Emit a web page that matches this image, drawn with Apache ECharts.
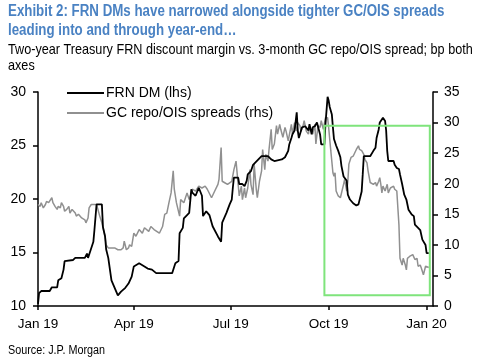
<!DOCTYPE html>
<html><head><meta charset="utf-8">
<script src="https://cdn.jsdelivr.net/npm/echarts@6/dist/echarts.min.js"></script>
<style>html,body{margin:0;padding:0;background:#fff}#c{width:480px;height:362px}</style>
</head><body><div id="c"></div>
<script>
// ---------- data ----------
const titleLines = ['Exhibit 2: FRN DMs have narrowed alongside tighter GC/OIS spreads', 'leading into and through year-end\u2026'];
const subtitleLines = ['Two-year Treasury FRN discount margin vs. 3-month GC repo/OIS spread; bp both', 'axes'];
const sourceText = 'Source: J.P. Morgan';
const seriesNames = ['FRN DM (lhs)', 'GC repo/OIS spreads (rhs)'];

const xTickDates = ['2019-01-01', '2019-04-01', '2019-07-01', '2019-10-01', '2020-01-01'];
const xTickLabels = ['Jan 19', 'Apr 19', 'Jul 19', 'Oct 19', 'Jan 20'];
const xRange = ['2019-01-01', '2020-01-07'];
const leftAxis = [10, 30, 5];   // min, max, interval
const rightAxis = [0, 35, 5];

const frnDates = ['2019-01-01','2019-01-02','2019-01-04','2019-01-12','2019-01-14','2019-01-19','2019-01-20','2019-01-23','2019-01-25','2019-01-26',
'2019-02-03','2019-02-05','2019-02-14','2019-02-16','2019-02-17','2019-02-19','2019-02-22','2019-02-23','2019-02-25','2019-03-02',
'2019-03-03','2019-03-05','2019-03-06','2019-03-08','2019-03-11','2019-03-14','2019-03-17','2019-03-20','2019-03-24','2019-03-27',
'2019-03-30','2019-04-01','2019-04-02','2019-04-06','2019-04-11','2019-04-14','2019-04-18','2019-04-22','2019-05-07','2019-05-10',
'2019-05-13','2019-05-14','2019-05-17','2019-05-18','2019-05-21','2019-05-23','2019-05-25','2019-05-26','2019-05-29','2019-06-01',
'2019-06-04','2019-06-05','2019-06-08','2019-06-11','2019-06-14','2019-06-19','2019-06-22','2019-06-23','2019-06-27','2019-06-30',
'2019-07-02','2019-07-03','2019-07-04','2019-07-08','2019-07-09','2019-07-12','2019-07-14','2019-07-16','2019-07-17','2019-07-20',
'2019-07-22','2019-07-23','2019-07-27','2019-07-30','2019-08-05','2019-08-08','2019-08-11','2019-08-18','2019-08-21','2019-08-24',
'2019-08-25','2019-08-27','2019-08-28','2019-08-30','2019-09-01','2019-09-02','2019-09-03','2019-09-06','2019-09-09','2019-09-12',
'2019-09-13','2019-09-15','2019-09-16','2019-09-18','2019-09-20','2019-09-21','2019-09-23','2019-09-24','2019-09-27','2019-09-28',
'2019-09-30','2019-10-01','2019-10-02','2019-10-04','2019-10-05','2019-10-06','2019-10-08','2019-10-10','2019-10-12','2019-10-13',
'2019-10-15','2019-10-18','2019-10-19','2019-10-21','2019-10-24','2019-10-27','2019-10-29','2019-10-30','2019-11-01','2019-11-02',
'2019-11-03','2019-11-09','2019-11-12','2019-11-14','2019-11-15','2019-11-17','2019-11-18','2019-11-21','2019-11-23','2019-11-24',
'2019-11-25','2019-11-26','2019-12-01','2019-12-02','2019-12-04','2019-12-06','2019-12-07','2019-12-09','2019-12-11','2019-12-13',
'2019-12-15','2019-12-18','2019-12-20','2019-12-21','2019-12-24','2019-12-26','2019-12-28','2019-12-31','2020-01-01','2020-01-03'];
const frnValues = [10.2,11.2,11.4,11.4,11.75,11.75,12.4,12.6,13.4,14.2,
14.3,14.5,14.5,14.9,14.5,15.1,16.0,17.1,19.5,19.5,
17.4,16.5,15.3,14.5,12.4,11.7,11.0,11.35,11.7,12.1,
12.75,13.7,13.85,14.0,13.7,13.5,13.4,13.07,13.07,14.0,
14.2,16.8,17.3,18.2,18.5,18.7,20.9,20.6,20.3,21.05,
20.3,18.4,18.85,18.5,17.45,16.5,16.0,17.8,18.7,19.5,
19.95,21.05,22.0,22.0,21.4,21.4,21.2,21.7,22.3,22.6,
23.2,23.1,23.7,24.0,24.0,23.7,23.55,23.7,23.9,24.5,
25.1,25.7,26.05,26.4,28.1,26.4,25.7,26.7,26.8,26.4,
27.0,26.05,26.7,26.8,27.15,27.0,26.0,25.1,25.1,27.0,
29.55,29.2,28.6,27.9,26.7,25.6,25.0,24.5,23.9,23.1,
22.1,21.7,20.4,19.95,19.6,19.4,19.5,19.6,20.7,22.3,
24.0,24.0,24.5,24.8,25.7,26.5,27.15,27.6,27.3,26.4,
24.5,23.55,23.55,23.2,22.9,22.8,22.3,21.4,20.4,19.95,
19.0,18.55,18.4,17.6,17.3,17.1,16.2,15.7,14.95,14.95];

const gcDates = ['2019-01-01','2019-01-03','2019-01-04','2019-01-06','2019-01-08','2019-01-09','2019-01-11','2019-01-12','2019-01-14','2019-01-15',
'2019-01-17','2019-01-19','2019-01-20','2019-01-22','2019-01-23','2019-01-25','2019-01-26','2019-01-28','2019-01-30','2019-01-31',
'2019-02-02','2019-02-03','2019-02-05','2019-02-06','2019-02-08','2019-02-09','2019-02-11','2019-02-12','2019-02-14','2019-02-15',
'2019-02-17','2019-02-18','2019-02-20','2019-02-25','2019-02-26','2019-02-28','2019-03-02','2019-03-03','2019-03-05','2019-03-06',
'2019-03-08','2019-03-14','2019-03-17','2019-03-20','2019-03-22','2019-03-23','2019-03-25','2019-03-27','2019-03-28','2019-03-30',
'2019-04-01','2019-04-03','2019-04-06','2019-04-09','2019-04-11','2019-04-15','2019-04-17','2019-04-20','2019-04-25','2019-04-28',
'2019-04-30','2019-05-02','2019-05-04','2019-05-06','2019-05-08','2019-05-09','2019-05-11','2019-05-14','2019-05-15','2019-05-18',
'2019-05-21','2019-05-23','2019-05-26','2019-05-29','2019-06-01','2019-06-04','2019-06-07','2019-06-09','2019-06-13','2019-06-16',
'2019-06-19','2019-06-20','2019-06-22','2019-06-23','2019-06-25','2019-06-28','2019-07-02','2019-07-04','2019-07-06','2019-07-08',
'2019-07-09','2019-07-11','2019-07-12','2019-07-14','2019-07-15','2019-07-17','2019-07-19','2019-07-20','2019-07-22','2019-07-23',
'2019-07-25','2019-07-26','2019-07-28','2019-07-30','2019-07-31','2019-08-02','2019-08-03','2019-08-05','2019-08-06','2019-08-08',
'2019-08-09','2019-08-11','2019-08-13','2019-08-14','2019-08-16','2019-08-17','2019-08-19','2019-08-21','2019-08-22','2019-08-24',
'2019-08-25','2019-08-27','2019-08-28','2019-08-30','2019-09-01','2019-09-02','2019-09-04','2019-09-05','2019-09-07','2019-09-08',
'2019-09-10','2019-09-12','2019-09-13','2019-09-15','2019-09-16','2019-09-18','2019-09-19','2019-09-21','2019-09-23','2019-09-24',
'2019-09-26','2019-09-28','2019-09-29','2019-09-30','2019-10-01','2019-10-03','2019-10-05','2019-10-06','2019-10-07','2019-10-08',
'2019-10-10','2019-10-12','2019-10-13','2019-10-15','2019-10-16','2019-10-18','2019-10-19','2019-10-20','2019-10-22','2019-10-24',
'2019-10-27','2019-10-29','2019-10-30','2019-11-01','2019-11-03','2019-11-04','2019-11-06','2019-11-07','2019-11-09','2019-11-10',
'2019-11-12','2019-11-14','2019-11-15','2019-11-17','2019-11-18','2019-11-19','2019-11-20','2019-11-21','2019-11-23','2019-11-25',
'2019-11-26','2019-11-28','2019-11-29','2019-12-01','2019-12-02','2019-12-04','2019-12-06','2019-12-07','2019-12-09','2019-12-10',
'2019-12-12','2019-12-13','2019-12-14','2019-12-16','2019-12-17','2019-12-19','2019-12-21','2019-12-23','2019-12-24','2019-12-26',
'2019-12-27','2019-12-29','2019-12-31','2020-01-01','2020-01-03'];
const gcValues = [16.6,16.3,16.9,16.05,16.6,17.1,16.9,17.1,17.7,16.9,
16.3,15.8,16.3,16.05,16.9,16.3,15.5,15.8,16.3,15.2,
15.8,15.5,15.2,14.7,15.0,14.7,14.4,14.4,14.1,13.6,
14.4,16.05,16.6,16.6,16.3,14.7,13.6,12.8,11.4,10.0,
9.5,9.5,9.2,9.2,9.5,10.6,9.2,9.5,10.0,9.75,
11.9,11.4,12.5,11.9,12.8,12.2,13.0,12.5,11.9,13.0,
15.0,15.2,16.9,18.5,22.1,19.1,16.9,14.7,17.4,16.9,
18.5,17.4,19.1,18.8,19.6,19.3,19.6,19.1,17.7,18.8,
19.9,20.7,25.9,20.4,20.2,19.9,20.4,22.3,23.7,19.9,
18.0,19.6,17.4,19.3,17.7,19.3,22.3,19.9,18.2,23.2,
19.1,17.7,20.4,22.1,25.6,22.3,24.8,23.7,25.6,28.9,
25.6,26.5,29.5,28.1,29.7,28.9,27.6,29.2,28.6,27.0,
26.7,29.7,28.1,30.0,28.6,30.0,29.5,28.6,29.5,30.3,
28.6,28.1,29.2,28.6,28.1,29.7,26.5,29.5,29.2,30.3,
28.9,30.8,31.1,30.8,29.2,25.4,21.8,21.2,21.8,18.8,
18.0,17.7,18.0,19.9,20.7,18.8,20.4,23.2,24.3,24.5,
25.6,26.2,25.6,25.4,24.8,24.0,23.4,22.1,20.2,20.4,
19.9,20.2,19.6,20.4,21.0,19.9,18.5,19.6,18.8,19.9,
18.5,19.3,19.1,19.6,19.1,18.8,13.3,7.8,6.7,7.8,
6.7,5.9,7.8,8.1,7.8,8.4,7.6,7.8,6.5,6.7,
6.2,5.1,6.5,6.3,6.3];

// highlight box: date range and left-axis values
const boxDates = ['2019-09-27', '2020-01-04'];
const boxLeftValues = [26.85, 11.0];

// ---------- chart ----------
const FONT = "'Liberation Sans',Arial,sans-serif";
function ts(s) { const p = s.split('-').map(Number); return new Date(p[0], p[1] - 1, p[2]).getTime(); }
const tickTimes = xTickDates.map(ts);

function narrowText(text, x, y, size, weight, color, scaleX, lineHeight) {
  return { type: 'text', x: x, y: y, scaleX: scaleX, silent: true,
    style: { text: text, fontFamily: FONT, fontSize: size, fontWeight: weight, fill: color,
      lineHeight: lineHeight, textVerticalAlign: 'top', verticalAlign: 'top' } };
}

const chart = echarts.init(document.getElementById('c'), null, { renderer: 'canvas' });
chart.setOption({
  animation: false,
  backgroundColor: '#fff',
  graphic: [
    narrowText(titleLines.join('\n'), 8, 2, 16, 'bold', '#4A82C3', 0.832, 19),
    narrowText(subtitleLines.join('\n'), 8, 42, 14.5, 'normal', '#000', 0.872, 16),
    narrowText(sourceText, 8, 344, 12, 'normal', '#000', 0.9, 14)
  ],
  legend: {
    orient: 'vertical', left: 62, top: 81, itemWidth: 37, itemHeight: 2, itemGap: 6, icon: 'rect',
    textStyle: { fontFamily: FONT, fontSize: 14, color: '#000', padding: [0, 0, 0, -3] },
    data: seriesNames
  },
  grid: { left: 38, right: 47, top: 92, bottom: 56, containLabel: false },
  xAxis: {
    type: 'value', min: ts(xRange[0]), max: ts(xRange[1]),
    axisLine: { show: true, lineStyle: { color: '#000', width: 1.5 } },
    axisTick: { show: true, length: 4, customValues: tickTimes, lineStyle: { color: '#000', width: 1.5 } },
    axisLabel: { customValues: tickTimes, margin: 11, fontFamily: FONT, fontSize: 13.5, color: '#000',
      formatter: function (v) { const i = tickTimes.findIndex(t => Math.abs(t - v) < 86400000); return i >= 0 ? xTickLabels[i] : ''; } },
    splitLine: { show: false }
  },
  yAxis: [
    { type: 'value', position: 'left', min: leftAxis[0], max: leftAxis[1], interval: leftAxis[2],
      axisLine: { show: true, lineStyle: { color: '#000', width: 1.5 } },
      axisTick: { show: true, length: 5, lineStyle: { color: '#000', width: 1.5 } },
      axisLabel: { margin: 12, fontFamily: FONT, fontSize: 14, color: '#000' },
      splitLine: { show: false } },
    { type: 'value', position: 'right', min: rightAxis[0], max: rightAxis[1], interval: rightAxis[2],
      axisLine: { show: true, lineStyle: { color: '#000', width: 1.5 } },
      axisTick: { show: true, length: 5, lineStyle: { color: '#000', width: 1.5 } },
      axisLabel: { margin: 11, fontFamily: FONT, fontSize: 14, color: '#000' },
      splitLine: { show: false } }
  ],
  series: [
    { name: seriesNames[1], type: 'line', yAxisIndex: 1, symbol: 'none', z: 2,
      lineStyle: { color: '#909090', width: 1.5 }, itemStyle: { color: '#909090' },
      data: gcDates.map((d, i) => [ts(d), gcValues[i]]) },
    { name: seriesNames[0], type: 'line', yAxisIndex: 0, symbol: 'none', z: 3,
      lineStyle: { color: '#000', width: 1.8 }, itemStyle: { color: '#000' },
      data: frnDates.map((d, i) => [ts(d), frnValues[i]]),
      markArea: { silent: true, z: 5,
        itemStyle: { color: 'rgba(0,0,0,0)', borderColor: '#7fe47c', borderWidth: 2 },
        data: [[{ coord: [ts(boxDates[0]), boxLeftValues[0]] }, { coord: [ts(boxDates[1]), boxLeftValues[1]] }]] } }
  ]
});
</script></body></html>
